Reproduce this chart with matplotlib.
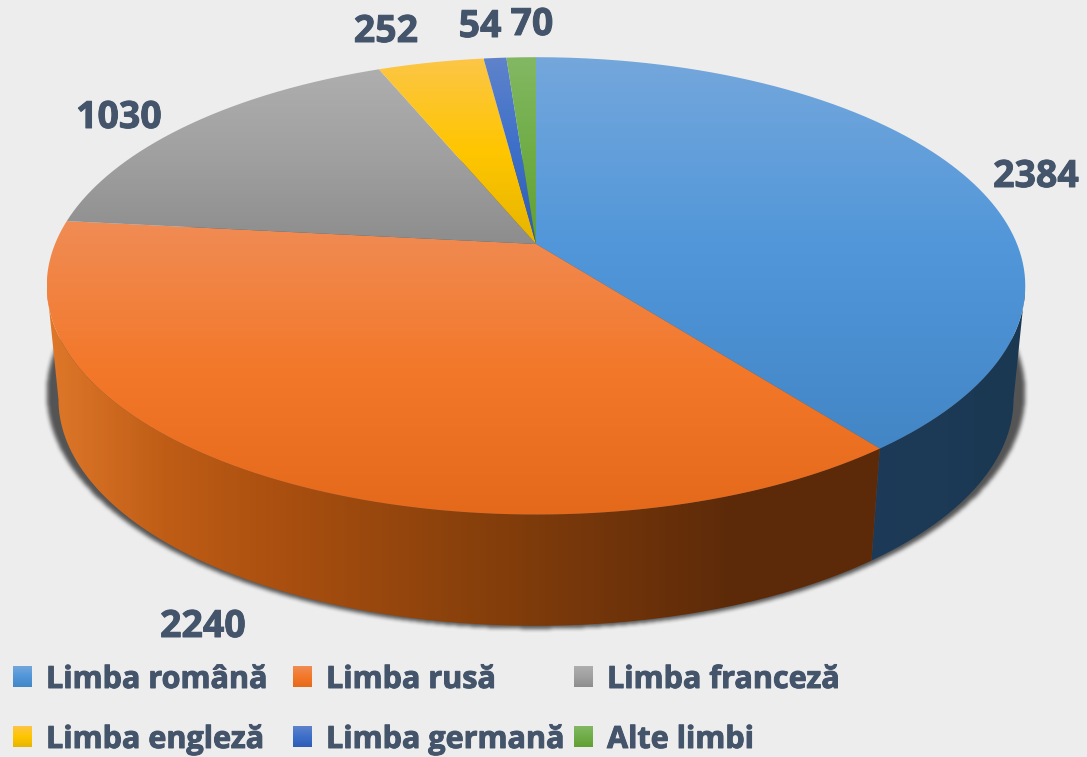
import numpy as np
import matplotlib
matplotlib.use('Agg')
import matplotlib.pyplot as plt
import matplotlib.patheffects as pe
from matplotlib.colors import LinearSegmentedColormap
from matplotlib.patches import PathPatch
from matplotlib.path import Path
from matplotlib.transforms import Affine2D

plt.rcParams['font.family'] = ['Open Sans', 'DejaVu Sans']

# data
languages = ['Limba română', 'Limba rusă', 'Limba franceză',
             'Limba engleză', 'Limba germană', 'Alte limbi']
counts = [2384, 2240, 1030, 252, 54, 70]

# styles
top_colors = [['#74A7DC', '#5096D9', '#4386C6'],
              ['#F08C55', '#F3782A', '#E5691A'],
              ['#AEAEAE', '#A0A0A0', '#8D8D8D'],
              ['#FCC547', '#FFC600', '#E6B500'],
              ['#5F83CB', '#3D6FC9', '#2E5BB5'],
              ['#83B863', '#70AD47', '#62A035']]
side_colors = [['#1D3B58', '#1B3852'],
               [(0, '#DE7729'), (0.14, '#BF5D16'), (0.27, '#AB5010'),
                (0.54, '#843E0B'), (0.83, '#5C2A09'), (1, '#5C2A09')],
               ['#8D8D8D', '#5A5A5A'],
               ['#E6B500', '#8F7000'],
               ['#2E5BB5', '#1E3C78'],
               ['#62A035', '#3E6622']]
bg = '#EDEDED'
text_color = '#44546A'

label_pos = [(1036, 187), (203, 637), (119, 128), (386, 42), (480, 37), (532, 35)]
legend_x = [13, 293, 574, 13, 293, 574]
legend_y = [688, 688, 688, 748, 748, 748]

# pie projection, in image pixels
cx, cy = 536, 244
ax_x, ax_y, persp = 481, 221, 0.183
base_scale, base_scale_y, base_y = 0.976, 0.99, 358
# angles where the rim turns away from the viewer
rim_start = np.pi - np.arcsin(np.sqrt(1 - persp ** 2))
rim_end = 2 * np.pi - rim_start
heavier = [pe.withStroke(linewidth=0.7, foreground=text_color)]


def project(theta, scale=1.0, y0=cy, scale_y=None):
    sx, sy = np.sin(theta), np.cos(theta)
    w = 1 + persp * sy
    scale_y = scale if scale_y is None else scale_y
    return cx + scale * ax_x * sx / w, y0 - scale_y * ax_y * sy / w


def gradient_fill(ax, path, colors, vertical=True, zorder=2):
    verts = path.vertices
    x0, x1 = verts[:, 0].min(), verts[:, 0].max()
    y0, y1 = verts[:, 1].min(), verts[:, 1].max()
    cmap = LinearSegmentedColormap.from_list('g', colors)
    grad = np.linspace(0, 1, 256)
    grad = grad[:, None] if vertical else grad[None, :]
    im = ax.imshow(grad, cmap=cmap, extent=(x0, x1, y1, y0), aspect='auto',
                   interpolation='bilinear', zorder=zorder)
    patch = PathPatch(path, facecolor='none', edgecolor='none', transform=ax.transData)
    ax.add_patch(patch)
    im.set_clip_path(patch)


fig = plt.figure(figsize=(10.87, 7.57), dpi=100, facecolor=bg)
ax = fig.add_axes([0, 0, 1, 1])
ax.set_axis_off()

# blurred shadow under the pie
all_t = np.linspace(0, 2 * np.pi, 500)
sh_x, sh_y = project(all_t, 1.0, 350, 1.03)
yy, xx = np.mgrid[0:757, 0:1087]
mask = Path(np.column_stack([sh_x, sh_y])).contains_points(
    np.column_stack([xx.ravel() + 0.5, yy.ravel() + 0.5])).reshape(xx.shape).astype(float)
kernel = np.ones(5) / 5
for _ in range(2):
    mask = np.apply_along_axis(lambda r: np.convolve(r, kernel, mode='same'), 0, mask)
    mask = np.apply_along_axis(lambda r: np.convolve(r, kernel, mode='same'), 1, mask)
shadow = np.zeros(mask.shape + (4,))
shadow[..., :3] = 0.33
shadow[..., 3] = mask
ax.imshow(shadow, extent=(0, 1087, 757, 0), aspect='auto', zorder=1)

# angles, clockwise from the top
edges = np.concatenate([[0], np.cumsum(counts)]) / np.sum(counts) * 2 * np.pi

# only the front part of the rim can be seen
for i in range(len(counts)):
    a, b = max(edges[i], rim_start), min(edges[i + 1], rim_end)
    if a >= b:
        continue
    t = np.linspace(a, b, 200)
    xt, yt = project(t)
    xb, yb = project(t, base_scale, base_y, base_scale_y)
    verts = np.column_stack([np.r_[xt, xb[::-1]], np.r_[yt, yb[::-1]]])
    gradient_fill(ax, Path(verts), side_colors[i], vertical=False, zorder=2)

# top faces
for i in range(len(counts)):
    t = np.linspace(edges[i], edges[i + 1], 300)
    xt, yt = project(t)
    verts = np.column_stack([np.r_[cx, xt], np.r_[cy, yt]])
    gradient_fill(ax, Path(verts), top_colors[i], zorder=3)

# value labels
for v, (x, y) in zip(counts, label_pos):
    ax.text(x, y, str(v), fontsize=27, fontweight='bold', color=text_color,
            ha='center', va='baseline', zorder=5, path_effects=heavier)

# legend
for i, name in enumerate(languages):
    x, y = legend_x[i], legend_y[i]
    swatch = Path.unit_rectangle().transformed(Affine2D().scale(19, 21).translate(x, y - 22))
    gradient_fill(ax, swatch, top_colors[i], zorder=4)
    ax.text(x + 33, y, name, fontsize=22, fontweight='bold', color=text_color,
            ha='left', va='baseline', zorder=5, path_effects=heavier)

ax.set_xlim(0, 1087)
ax.set_ylim(757, 0)
fig.savefig('out.png', dpi=100, facecolor=bg)
